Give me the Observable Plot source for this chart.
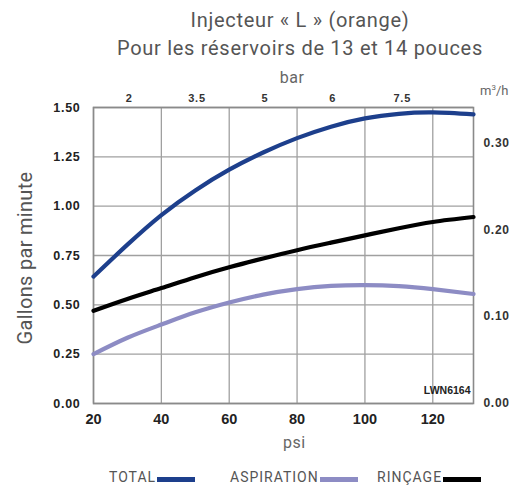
<!DOCTYPE html>
<html><head><meta charset="utf-8">
<script src="https://cdn.jsdelivr.net/npm/d3@7"></script>
<script src="https://cdn.jsdelivr.net/npm/@observablehq/plot@0.6"></script>
<style>
body{margin:0;background:#fff;}
#wrap{position:relative;width:514px;height:487px;overflow:hidden;font-family:Roboto,"Open Sans",sans-serif;color:#555;}
.t{position:absolute;white-space:nowrap;}
#chart{position:absolute;left:0;top:60px;}
.lg{font-size:14px;color:#555;letter-spacing:1px;line-height:16px;}
.sw{display:inline-block;width:38px;height:5px;vertical-align:baseline;margin-left:1px;}
</style></head>
<body><div id="wrap">
<div class="t" style="left:0;width:600px;text-align:center;top:9px;font-size:20px;letter-spacing:0.7px;line-height:23px;">Injecteur « L » (orange)</div>
<div class="t" style="left:0;width:600px;text-align:center;top:37px;font-size:20px;letter-spacing:0.7px;line-height:23px;">Pour les réservoirs de 13 et 14 pouces</div>
<div class="t" style="left:0;width:584px;text-align:center;top:68px;font-size:16px;color:#666;letter-spacing:0.5px;">bar</div>
<div class="t" style="left:480px;top:83px;font-size:13px;color:#666;">m<sup style="font-size:8px">3</sup>/h</div>
<div class="t" style="left:-65px;top:246px;width:180px;text-align:center;font-size:20px;letter-spacing:0.3px;transform:rotate(-90deg);">Gallons par minute</div>
<div class="t" style="left:283px;top:433px;font-size:16px;color:#666;letter-spacing:0.5px;">psi</div>
<div id="chart"></div>
<div class="t lg" style="left:109px;top:469px;">TOTAL<span class="sw" style="background:#1d3f8c"></span></div>
<div class="t lg" style="left:230px;top:469px;">ASPIRATION<span class="sw" style="background:#8d8cc4"></span></div>
<div class="t lg" style="left:377px;top:469px;">RINÇAGE<span class="sw" style="background:#000"></span></div>
</div>
<script>
const psi = [20,30,40,50,60,70,80,90,100,110,120,132];
const total = [0.643,0.805,0.955,1.08,1.185,1.272,1.345,1.403,1.445,1.468,1.475,1.465];
const aspiration = [0.25,0.333,0.40,0.462,0.512,0.552,0.58,0.596,0.60,0.595,0.58,0.555];
const rincage = [0.47,0.53,0.585,0.64,0.69,0.735,0.777,0.815,0.852,0.888,0.92,0.945];
const xTicks = [20,40,60,80,100,120];
const yTicks = [0,0.25,0.5,0.75,1.0,1.25,1.5];
const barPos = [30.5,50.5,70.5,90.5,111];
const barLabels = ["2","3.5","5","6","7.5"];
const m3hTicks = [0,0.1,0.2,0.3];
const GPM_PER_M3H = 4.4029;

const series = [
  {name:"TOTAL", values:total, color:"#1d3f8c"},
  {name:"ASPIRATION", values:aspiration, color:"#8d8cc4"},
  {name:"RINÇAGE", values:rincage, color:"#000000"}
];
const rows = series.flatMap(s => psi.map((p,i)=>({series:s.name, psi:p, gpm:s.values[i]})));
const barRows = barPos.map((p,i)=>({psi:p, label:barLabels[i]}));
const m3Rows = m3hTicks.map(v=>({gpm:v*GPM_PER_M3H, label:d3.format(".2f")(v)}));

const tickFont = {fontWeight:"bold", fill:"#222", fontFamily:"'Liberation Sans',Arial,sans-serif"};

const chart = Plot.plot({
  width:514, height:395,
  marginLeft:93, marginRight:41, marginTop:47, marginBottom:52,
  x:{domain:[20,132]},
  y:{domain:[0,1.5]},
  style:{background:"transparent", overflow:"visible"},
  color:{domain:series.map(s=>s.name), range:series.map(s=>s.color)},
  marks:[
    Plot.ruleX(xTicks, {stroke:"#a0a0a0", strokeWidth:1.3}),
    Plot.ruleY(yTicks, {stroke:"#a0a0a0", strokeWidth:1.3}),
    Plot.frame({stroke:"#8a8a8a", strokeWidth:1.6}),
    Plot.line(rows, {x:"psi", y:"gpm", z:"series", stroke:"series", strokeWidth:4.2, curve:"natural"}),
    Plot.axisX(xTicks, {anchor:"bottom", tickSize:0, tickPadding:10, label:null, ...tickFont, fontSize:14.5}),
    Plot.axisY(yTicks, {anchor:"left", tickSize:0, tickPadding:13, tickFormat:d3.format(".2f"), label:null, ...tickFont, fontSize:12.5}),
    Plot.text(barRows, {x:"psi", text:"label", frameAnchor:"top", dy:-13, ...tickFont, fontSize:11, fill:"#333"}),
    Plot.text(m3Rows, {y:"gpm", text:"label", frameAnchor:"right", dx:10, textAnchor:"start", ...tickFont, fontSize:12, fill:"#333"}),
    Plot.text(["LWN6164"], {frameAnchor:"bottom-right", dx:-3, dy:-10, text:d=>d, textAnchor:"end", ...tickFont, fontSize:10.5})
  ]
});
d3.select(chart).selectAll("text").each(function(){
  const s = this.textContent;
  if (/^\d\.\d\d$/.test(s)) d3.select(this).style("letter-spacing", "0.7px");
  if (/^\d(\.\d)?$/.test(s)) d3.select(this).style("letter-spacing", "0.8px");
});
document.getElementById("chart").appendChild(chart);
</script>
</body></html>
